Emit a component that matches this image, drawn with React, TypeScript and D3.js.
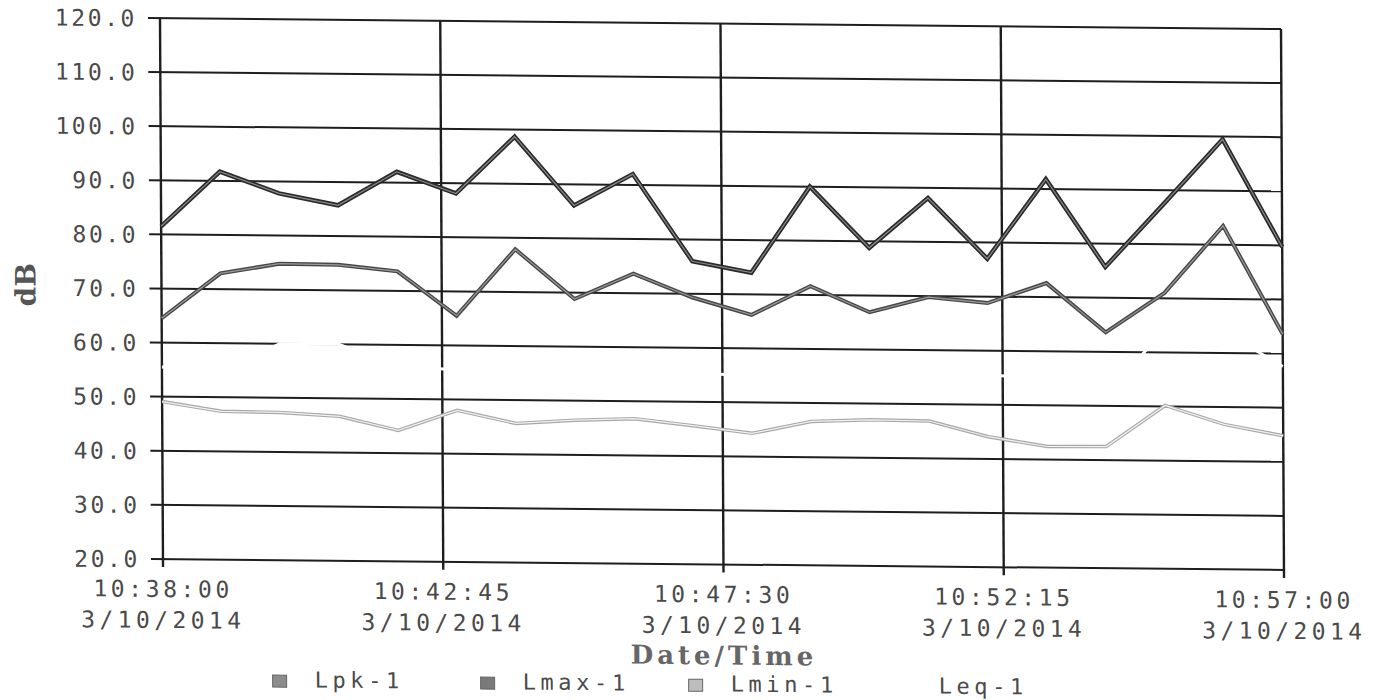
import React from "react";
import * as d3 from "d3";

// ---- data ----
const times = [
  "10:38:00", "10:39:00", "10:40:00", "10:41:00", "10:42:00",
  "10:43:00", "10:44:00", "10:45:00", "10:46:00", "10:47:00",
  "10:48:00", "10:49:00", "10:50:00", "10:51:00", "10:52:00",
  "10:53:00", "10:54:00", "10:55:00", "10:56:00", "10:57:00",
];
const lpk = [81.5, 91.7, 87.8, 85.7, 92.0, 88.1, 98.7, 86.1, 92.0, 76.0, 74.0, 90.0, 78.8, 88.1, 77.0, 91.8, 75.7, 87.5, 99.5, 79.7];
const lmax = [64.5, 72.9, 74.8, 74.7, 73.6, 65.5, 77.9, 68.8, 73.6, 69.3, 66.2, 71.6, 66.9, 69.8, 68.8, 72.6, 63.6, 71.0, 83.5, 63.6];
const lmin = [49.1, 47.4, 47.3, 46.7, 44.2, 48.0, 45.7, 46.4, 46.8, 45.6, 44.3, 46.6, 47.0, 46.9, 44.1, 42.4, 42.5, 50.2, 46.8, 44.8];
const leq = [55.5, 55.0, 60.0, 60.0, 56.0, 55.5, 57.0, 56.5, 57.0, 55.5, 54.8, 57.0, 56.0, 56.5, 55.5, 55.0, 52.5, 64.0, 64.0, 57.6];

const tickTimes = ["10:38:00", "10:42:45", "10:47:30", "10:52:15", "10:57:00"];
const tickDate = "3/10/2014";
const yTicks = [20, 30, 40, 50, 60, 70, 80, 90, 100, 110, 120];
const legendNames = ["Lpk-1", "Lmax-1", "Lmin-1", "Leq-1"];
const yTitle = "dB";
const xTitle = "Date/Time";

const toSec = (t: string) => {
  const [h, m, s] = t.split(":").map(Number);
  return h * 3600 + m * 60 + s;
};

const W = 1121;
const H = 541;

export default function App() {
  const x = d3
    .scaleLinear()
    .domain([toSec(tickTimes[0]), toSec(tickTimes[tickTimes.length - 1])])
    .range([0, W]);
  const y = d3.scaleLinear().domain([20, 120]).range([H, 0]);

  const line = d3
    .line<number>()
    .x((_, i) => x(toSec(times[i])))
    .y((d) => y(d));

  const mono = "'DejaVu Sans Mono', 'Liberation Mono', monospace";
  const serif = "'DejaVu Serif', 'Liberation Serif', serif";
  const textCol = "#4a4a4a";
  const gridCol = "#1e1e1e";

  const series = [
    { name: legendNames[0], data: lpk, outer: "#2a2a2a", ow: 4.5, inner: "#8a8a8a", iw: 1.2, sw: "#8c8c8c" },
    { name: legendNames[1], data: lmax, outer: "#474747", ow: 4, inner: "#9a9a9a", iw: 1.2, sw: "#7a7a7a" },
    { name: legendNames[2], data: lmin, outer: "#a8a8a8", ow: 3.5, inner: "#f2f2f2", iw: 1.2, sw: "#bdbdbd" },
  ];

  return (
    <svg
      width={1381}
      height={700}
      style={{ position: "absolute", left: 0, top: 0, display: "block", background: "#fff" }}
    >
      <rect width={1381} height={700} fill="#fff" />
      <g transform="translate(160,18) matrix(1,0.0098,0.0055,1,0,0)">
        {/* horizontal grid + y ticks */}
        {yTicks.map((v) => (
          <g key={v}>
            <line x1={-12} x2={W} y1={y(v)} y2={y(v)} stroke={gridCol} strokeWidth={2} />
            <text
              x={-23}
              y={y(v) + 8.5}
              textAnchor="end"
              fontFamily={mono}
              fontSize={23}
              letterSpacing={2.6}
              fill={textCol}
            >
              {v.toFixed(1)}
            </text>
          </g>
        ))}
        {/* vertical grid + x ticks */}
        {tickTimes.map((t) => {
          const xx = x(toSec(t));
          return (
            <g key={t}>
              <line x1={xx} x2={xx} y1={0} y2={H + 8} stroke={gridCol} strokeWidth={2.4} />
              <text x={xx} y={579} textAnchor="middle" fontFamily={mono} fontSize={23} letterSpacing={3.6} fill={textCol}>
                {t}
              </text>
              <text x={xx} y={610} textAnchor="middle" fontFamily={mono} fontSize={23} letterSpacing={4.4} fill={textCol}>
                {tickDate}
              </text>
            </g>
          );
        })}
        {/* Leq (white) */}
        <path d={line(leq) || ""} fill="none" stroke="#fff" strokeWidth={3} />
        {/* series */}
        {series.map((s) => (
          <g key={s.name}>
            <path d={line(s.data) || ""} fill="none" stroke={s.outer} strokeWidth={s.ow} strokeLinejoin="miter" />
            <path d={line(s.data) || ""} fill="none" stroke={s.inner} strokeWidth={s.iw} />
          </g>
        ))}
        {/* axis titles */}
        <text
          x={W / 2}
          y={641}
          textAnchor="middle"
          fontFamily={serif}
          fontWeight="bold"
          fontSize={26}
          letterSpacing={4}
          fill="#666"
        >
          {xTitle}
        </text>
        <text
          transform="translate(-126,268) rotate(-90)"
          textAnchor="middle"
          fontFamily={serif}
          fontWeight="bold"
          fontSize={28}
          fill="#555"
        >
          {yTitle}
        </text>
        {/* legend */}
        {legendNames.map((n, i) => {
          const tx = 151 + i * 208;
          const sw = i < series.length ? series[i].sw : "#fff";
          return (
            <g key={n}>
              <rect
                x={tx - 42}
                y={656}
                width={14}
                height={12}
                fill={sw}
                stroke={i < series.length ? "#666" : "#fff"}
                strokeWidth={1}
              />
              <text x={tx} y={668} fontFamily={mono} fontSize={22} letterSpacing={4.6} fill={textCol}>
                {n}
              </text>
            </g>
          );
        })}
      </g>
    </svg>
  );
}
